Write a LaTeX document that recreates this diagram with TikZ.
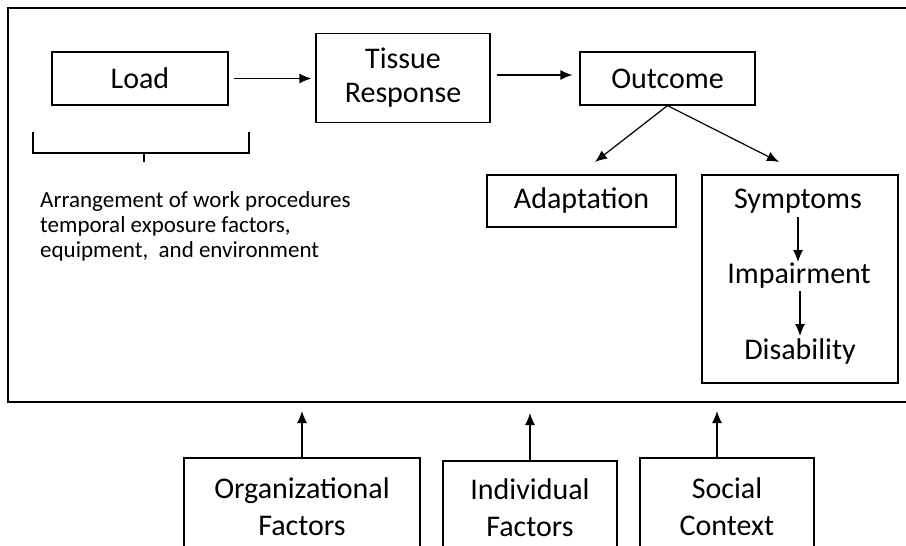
\documentclass[tikz,border=0pt]{standalone}
\usepackage{fontspec}
\setmainfont{Carlito}
\usetikzlibrary{arrows.meta}
\tikzset{
	box/.style={draw, line width=1.2pt, inner sep=0pt, align=center, font=\fontsize{30}{34}\selectfont},
	twoline/.style={font=\fontsize{30}{37}\selectfont},
	label/.style={inner sep=0pt, align=center, font=\fontsize{30}{33}\selectfont},
	arr/.style={line width=1.2pt, -{Latex[length=12pt,width=10pt]}}
}

\begin{document}
\begin{tikzpicture}[x=1pt, y=-1pt]
		%%%%% START %%%%%
		\useasboundingbox (0, 0) rectangle (906, 546);
		\clip (0, 0) rectangle (906, 546);
		
		% frame, open on the right
		\draw[line width=1.2pt] (910, 8) -- (8, 8) -- (8, 402) -- (910, 402);
		
		\node[box, minimum width=176pt, minimum height=53pt] (load) at (140, 78.5) {Load};
		\node[box, minimum width=174pt, minimum height=89pt] (tissue) at (403, 78) {Tissue\\Response};
		\node[box, minimum width=175pt, minimum height=53pt] (outcome) at (667.5, 78.5) {Outcome};
		
		\draw[arr] ([xshift=5pt]load.east) -- ([xshift=-4pt]load.east -| tissue.west);
		\draw[arr] ([xshift=6pt, yshift=3pt]tissue.east) -- ([xshift=-7pt, yshift=3pt]tissue.east -| outcome.west);
		
		\node[box, minimum width=189pt, minimum height=52pt] (adapt) at (581.5, 201) {Adaptation};
		\node[box, minimum width=196pt, minimum height=208pt] (symbox) at (800, 279) {};
		
		\node[label] (symptoms) at (798, 201) {Symptoms};
		\node[label] (impair) at (799, 276) {Impairment};
		\node[label] (disab) at (800, 351) {Disability};
		\draw[arr] (798, 217) -- (798, 262);
		\draw[arr] (800, 291) -- (800, 336);
		
		\coordinate (adapttip) at (595, 162);
		\coordinate (symtip) at (779, 162);
		\draw[arr] (outcome.south) -- (adapttip);
		\draw[arr] (outcome.south) -- (symtip);
		
		% bracket under Load
		\draw[line width=1.2pt] (33, 132) -- (33, 153) -- (249, 153) -- (249, 132);
		\draw[line width=1.2pt] (144, 153) -- (144, 162);
		\node[anchor=north west, inner sep=0pt, align=left, font=\fontsize{23}{25}\selectfont] (loadtext) at (40, 191)
			{Arrangement of work procedures\\temporal exposure factors,\\equipment, \ and environment};
		
		% factors below the frame
		\node[box, twoline, minimum width=236pt, minimum height=97pt] (org) at (302, 506.5) {Organizational\\Factors};
		\node[box, twoline, minimum width=174pt, minimum height=94pt] (indiv) at (530, 508) {Individual\\Factors};
		\node[box, twoline, minimum width=174pt, minimum height=97pt] (social) at (727, 506.5) {Social\\Context};
		
		\coordinate (orgtip) at (302, 411);
		\coordinate (indivtip) at (530, 413);
		\coordinate (socialtip) at (717, 411);
		\draw[arr] (org.north) -- (orgtip);
		\draw[arr] (indiv.north) -- (indivtip);
		\draw[arr] (social.north -| socialtip) -- (socialtip);
		%%%%% END %%%%%
	\end{tikzpicture}
\end{document}
